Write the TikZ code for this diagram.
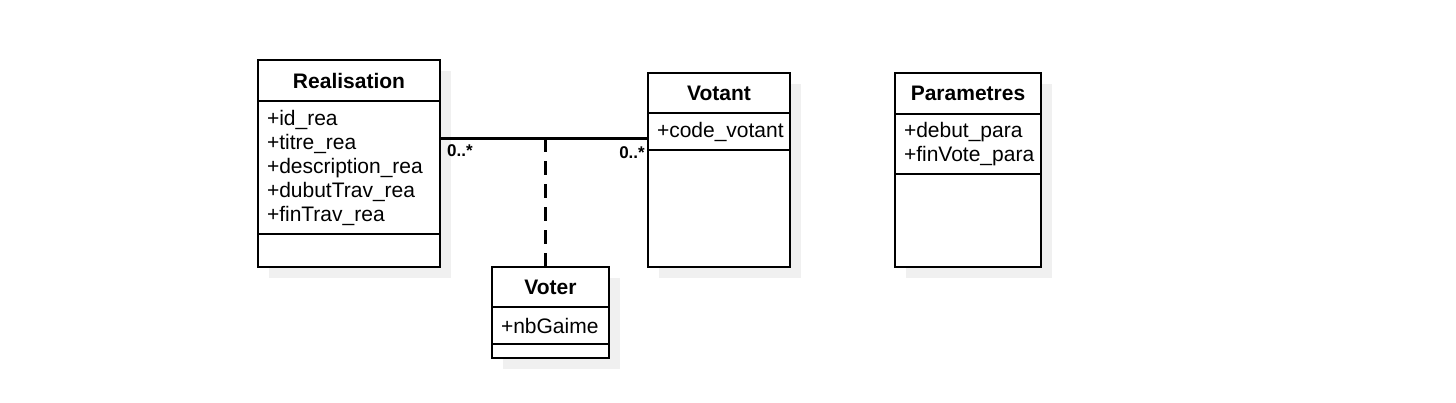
\documentclass[tikz,border=0pt]{standalone}
\usepackage{fontspec}
\setmainfont{Liberation Sans}
\usetikzlibrary{shadows}
\definecolor{shadowgray}{HTML}{F0F0F0}
\tikzset{
	box/.style={draw, line width=1.3pt, fill=white, inner sep=0pt, outer sep=0pt, anchor=north west,
		drop shadow={shadow xshift=11pt, shadow yshift=-11pt, fill=shadowgray, opacity=1}},
	head/.style={box, font=\fontsize{21}{24}\selectfont\bfseries},
	attr/.style={box, align=left, inner xsep=8pt, font=\fontsize{21}{24}\selectfont},
	assoc/.style={line width=3pt},
	mult/.style={inner sep=0pt, font=\fontsize{17}{18}\selectfont\bfseries}
}
\begin{document}
\begin{tikzpicture}[x=1pt,y=-1pt]
	\useasboundingbox (0,0) rectangle (1456,403);
	% Realisation
	\node[head, minimum width=182, minimum height=41] (reaH) at (258,60) {Realisation};
	\node[attr, minimum width=182, minimum height=133, text width=164] (reaA) at (reaH.south west)
		{+id\_rea\\+titre\_rea\\+description\_rea\\+dubutTrav\_rea\\+finTrav\_rea};
	\node[box, minimum width=182, minimum height=33] (reaM) at (reaA.south west) {};
	
	% Votant
	\node[head, minimum width=142, minimum height=40] (votH) at (648,73) {Votant};
	\node[attr, minimum width=142, minimum height=37, text width=124] (votA) at (votH.south west) {+code\_votant};
	\node[box, minimum width=142, minimum height=117] (votM) at (votA.south west) {};
	
	% Parametres
	\node[head, minimum width=146, minimum height=41] (parH) at (895,73) {Parametres};
	\node[attr, minimum width=146, minimum height=60, text width=128] (parA) at (parH.south west)
		{+debut\_para\\+finVote\_para};
	\node[box, minimum width=146, minimum height=93] (parM) at (parA.south west) {};
	
	% Voter (association class)
	\node[head, minimum width=117, minimum height=40] (votrH) at (492,267) {Voter};
	\node[attr, minimum width=117, minimum height=37, text width=99] (votrA) at (votrH.south west) {+nbGaime};
	\node[box, minimum width=117, minimum height=14] (votrM) at (votrA.south west) {};
	
	% association Realisation -- Votant
	\draw[assoc] ([yshift=-38pt]reaA.north east) coordinate (a1) -- (a1 -| votA.west) coordinate (a2);
	\coordinate (mid) at (545,139);		%join of the association class
	\draw[assoc, dash pattern=on 14pt off 9pt] (mid |- votrH.north) -- (mid);
	\node[mult, anchor=north west] (m1) at ([xshift=7pt,yshift=-5pt]a1) {0..*};
	\node[mult, anchor=north east] (m2) at ([xshift=-3pt,yshift=-7pt]a2) {0..*};
\end{tikzpicture}
\end{document}
